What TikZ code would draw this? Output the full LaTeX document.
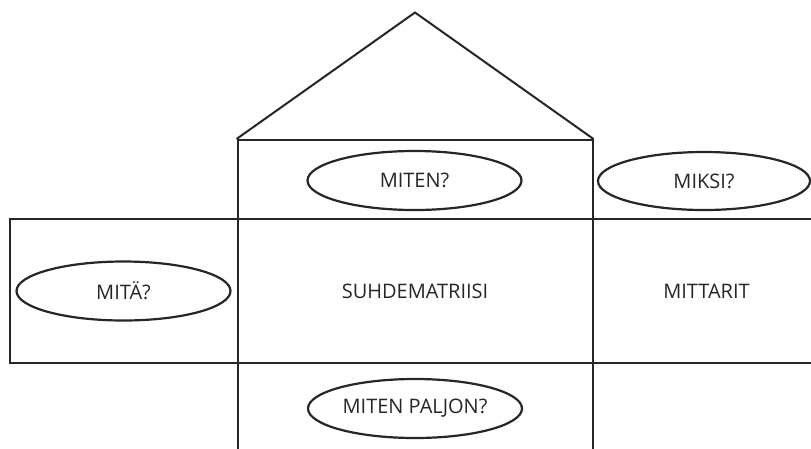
\documentclass[tikz,border=0pt]{standalone}
\usepackage{fontspec}
\setmainfont{Open Sans}
\usetikzlibrary{shapes.geometric}
\definecolor{ink}{HTML}{262626}
\begin{document}
\begin{tikzpicture}[x=1pt,y=-1pt,
  every node/.style={font=\fontsize{20}{24}\selectfont, text=ink},
  cell/.style={draw=ink, line width=2pt, rectangle, inner sep=0pt},
  bubble/.style={draw=ink, line width=2.2pt, ellipse, inner sep=0pt,
    minimum width=214pt, minimum height=59pt}]
  \useasboundingbox (0,0) rectangle (811,448);
  \clip (0,0) rectangle (811,448);
  % roof
  \coordinate (apex) at (415,12.5);
  % rooms of the house
  \node[cell, minimum width=355pt, minimum height=79pt] (top) at (415,179.5) {};
  \node[cell, minimum width=228pt, minimum height=144pt] (left) at (123.5,291) {};
  \node[cell, minimum width=355pt, minimum height=144pt] (mid) at (415,291) {SUHDEMATRIISI};
  \node[cell, minimum width=228pt, minimum height=144pt] (right) at (706.5,291) {MITTARIT};
  \node[cell, minimum width=355pt, minimum height=120pt] (bottom) at (415,423) {};
  \draw[draw=ink, line width=2pt, line join=miter] (top.north west) -- (apex) -- (top.north east);
  % question bubbles
  \node[bubble] (how) at (414.5,180.5) {MITEN?};
  \node[bubble, minimum width=212pt, minimum height=58pt] (why) at (704,181) {MIKSI?};
  \node[bubble] (what) at (123.5,291) {MITÄ?};
  \node[bubble] (howmuch) at (415,408.5) {MITEN PALJON?};
\end{tikzpicture}
\end{document}
